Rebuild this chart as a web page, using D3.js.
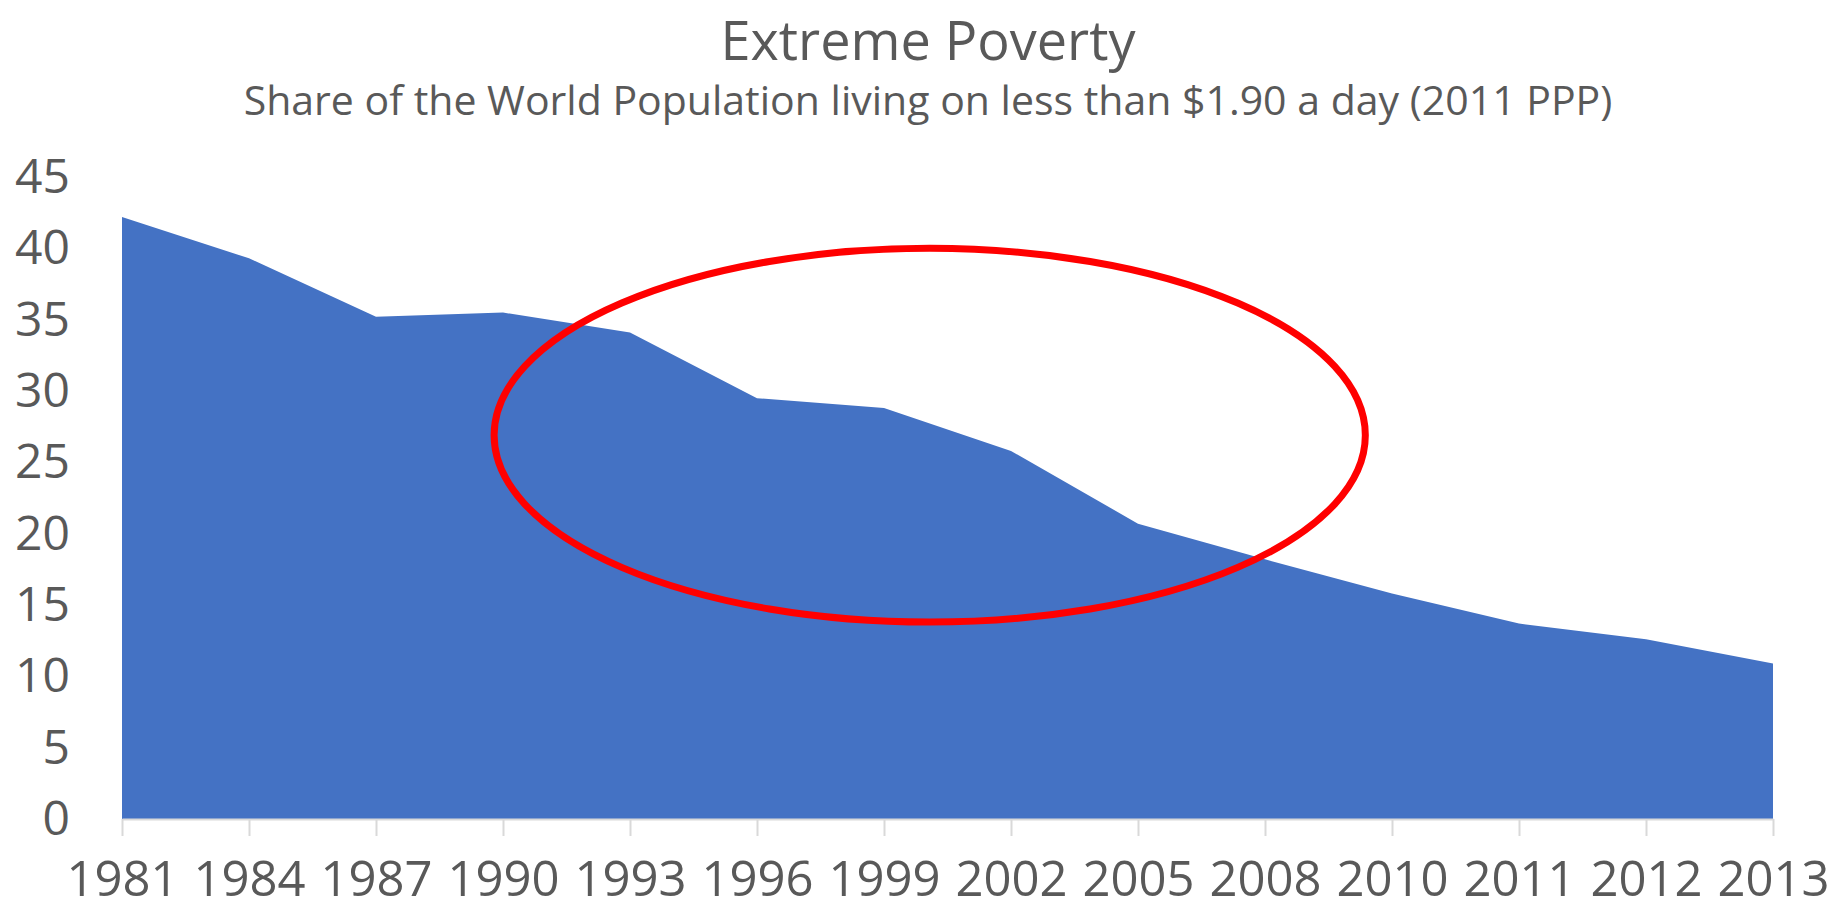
<!DOCTYPE html>
<html>
<head>
<meta charset="utf-8">
<script src="https://cdn.jsdelivr.net/npm/d3@7"></script>
<style>
    body { margin: 0; background: #fff; }
    text { font-family: "Open Sans", sans-serif; fill: #595959; }
</style>
</head>
<body>
<div id="pict1"></div>
<script>
// values
const years = ["1981", "1984", "1987", "1990", "1993", "1996", "1999", "2002", "2005", "2008", "2010", "2011", "2012", "2013"]
const share = [42.2, 39.3, 35.2, 35.5, 34.1, 29.5, 28.8, 25.8, 20.7, 18.2, 15.8, 13.7, 12.6, 10.9]
const y_ticks = [0, 5, 10, 15, 20, 25, 30, 35, 40, 45]
const title = "Extreme Poverty"
const subtitle = "Share of the World Population living on less than $1.90 a day (2011 PPP)"
// red ring drawn over the chart, in data units (centre between 1999 and 2002)
const ring = { year: "1999", offset: 0.36, value: 26.9, rxSteps: 3.43, ryValue: 13.1 }

let draw_chart = draw_pict1();
draw_chart(years, share)

function draw_pict1() {
    const config = {
        width: 1837,
        height: 910,
        margin: { top: 177, left: 122, bottom: 91, right: 64 },
        color: "#4472C4",
        ringColor: "#FF0000",
        axisColor: "#D9D9D9",
        xLabelSize: 49,
        yLabelSize: 48
    }
    const svg = d3.select("#pict1")
        .append("svg")
        .attr("width", config.width)
        .attr("height", config.height)
    const g_area = svg.append("g")
    const g_axisX = svg.append("g")
        .attr("transform", `translate(${0}, ${config.height - config.margin.bottom})`)
    const g_axisY = svg.append("g")
        .attr("transform", `translate(${70}, ${0})`)
    const g_ring = svg.append("g")
    const g_text = svg.append("g")

    let scale_x = null;
    let scale_y = null;
    return (cats, values) => {
        draw_axis(cats)
        draw_area(cats, values)
        draw_ring()
        g_text.append("text")
            .attr("x", 928)
            .attr("y", 60)
            .attr("text-anchor", "middle")
            .attr("font-size", 54)
            .text(title)
        g_text.append("text")
            .attr("x", 928)
            .attr("y", 115)
            .attr("text-anchor", "middle")
            .attr("font-size", 41)
            .text(subtitle)
    }
    function draw_axis(cats) {
        scale_x = d3.scalePoint()
            .domain(cats)
            .range([config.margin.left, config.width - config.margin.right]);
        scale_y = d3.scaleLinear()
            .domain([0, 45])
            .range([config.height - config.margin.bottom, config.margin.top]);

        let axis_x = d3.axisBottom()
            .scale(scale_x)
            .tickSize(17)
            .tickSizeOuter(0)
            .tickPadding(25)
        g_axisX.call(axis_x)
            .attr("font-size", config.xLabelSize)
        g_axisX.select(".domain").attr("stroke", config.axisColor).attr("stroke-width", 2)
        g_axisX.selectAll(".tick line").attr("stroke", config.axisColor).attr("stroke-width", 2)
        g_axisX.selectAll(".tick text").attr("fill", "#595959")
            .attr("font-family", "Open Sans, sans-serif")

        let axis_y = d3.axisLeft()
            .scale(scale_y)
            .tickValues(y_ticks)
            .tickSize(0)
            .tickPadding(0)
        g_axisY.call(axis_y)
            .attr("font-size", config.yLabelSize)
        g_axisY.select(".domain").remove()
        g_axisY.selectAll(".tick text").attr("fill", "#595959")
            .attr("font-family", "Open Sans, sans-serif")
    }
    function draw_area(cats, values) {
        const rows = cats.map((c, i) => ({ year: c, value: values[i] }))
        const area = d3.area()
            .x(d => scale_x(d.year))
            .y0(scale_y(0))
            .y1(d => scale_y(d.value))
        g_area.append("path")
            .datum(rows)
            .attr("d", area)
            .attr("fill", config.color)
    }
    function draw_ring() {
        const step = scale_x.step()
        g_ring.append("ellipse")
            .attr("cx", scale_x(ring.year) + ring.offset * step)
            .attr("cy", scale_y(ring.value))
            .attr("rx", ring.rxSteps * step)
            .attr("ry", scale_y(0) - scale_y(ring.ryValue))
            .attr("fill", "none")
            .attr("stroke", config.ringColor)
            .attr("stroke-width", 7)
    }
}
</script>
</body>
</html>
